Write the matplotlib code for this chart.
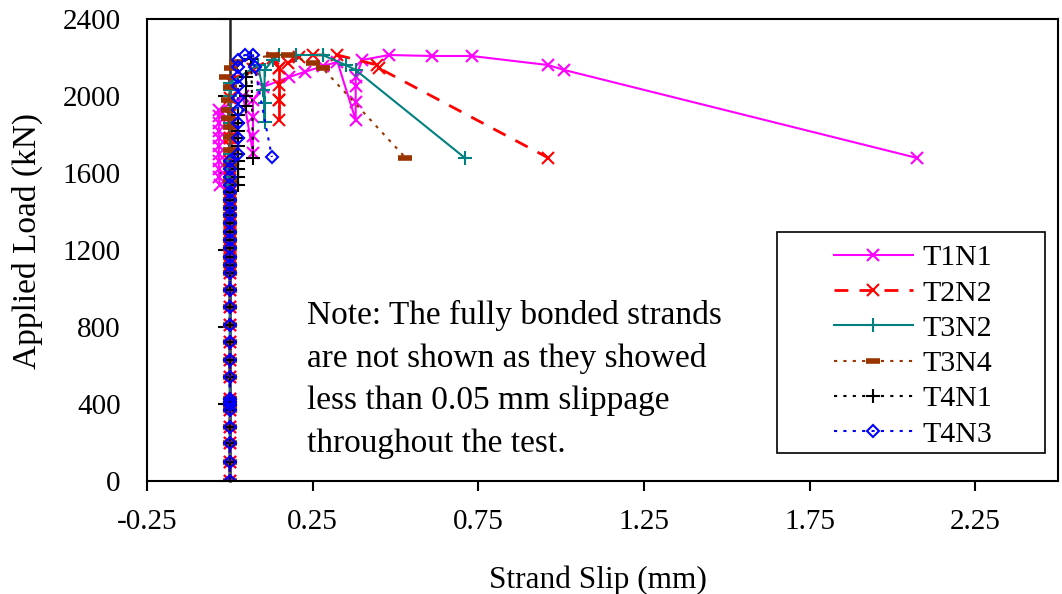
import numpy as np
import matplotlib.pyplot as plt
from matplotlib.patches import Rectangle

plt.rcParams['font.family'] = ['Liberation Serif', 'DejaVu Serif']

# common load steps where every strand is still at (about) zero slip
base_load = [0, 100, 195, 280, 370, 395, 410, 425, 540, 630, 720, 810, 905,
             990, 1080, 1120, 1165, 1210, 1250, 1295, 1340, 1380, 1420, 1460, 1500]
base_slip = [0.0] * len(base_load)

t1n1_slip = base_slip + [-0.03, -0.033, -0.033, -0.033, -0.033, -0.033, -0.033,
                         -0.033, -0.033, -0.033, -0.033, 0.04, 0.07, 0.07, 0.07,
                         0.07, 0.10, 0.18, 0.226, 0.28, 0.325, 0.38, 0.38, 0.38,
                         0.38, 0.40, 0.48, 0.61, 0.73, 0.96, 1.01, 2.075]
t1n1_load = base_load + [1540, 1580, 1620, 1660, 1700, 1740, 1780, 1820, 1860,
                         1895, 1925, 2000, 1705, 1790, 1890, 1980, 2047, 2099,
                         2125, 2155, 2177, 1875, 1969, 2050, 2099, 2187, 2213,
                         2208, 2208, 2161, 2135, 1678]

t2n2_slip = base_slip + [0.0, 0.0, 0.0, 0.0, 0.0, 0.0, 0.0, 0.0, 0.0, 0.0, 0.0,
                         0.0, 0.07, 0.13, 0.15, 0.15, 0.15, 0.15, 0.15, 0.15,
                         0.175, 0.21, 0.25, 0.325, 0.445, 0.45, 0.96]
t2n2_load = base_load + [1540, 1580, 1620, 1660, 1700, 1740, 1780, 1820, 1860,
                         1900, 1990, 2080, 2140, 2197, 2145, 2057, 1979, 1875,
                         1979, 2145, 2171, 2203, 2213, 2213, 2161, 2145, 1680]

t3n2_slip = base_slip + [0.0, 0.0, 0.0, 0.0, 0.0, 0.0, 0.0, 0.0, 0.0, 0.0, 0.0,
                         0.085, 0.10, 0.105, 0.105, 0.105, 0.13, 0.15, 0.2, 0.28,
                         0.35, 0.38, 0.71]
t3n2_load = base_load + [1540, 1580, 1620, 1660, 1700, 1780, 1860, 1940, 2000,
                         2030, 2068, 2161, 2031, 1964, 1865, 2135, 2187, 2213,
                         2213, 2213, 2161, 2135, 1678]

t3n4_slip = base_slip + [0.0, 0.0, 0.0, 0.0, 0.0, -0.005, -0.005, -0.005, 0.0,
                         -0.01, 0.005, 0.02, 0.13, 0.175, 0.25, 0.28, 0.53]
t3n4_load = base_load + [1560, 1640, 1720, 1787, 1840, 1886, 1927, 1979, 2047,
                         2099, 2145, 2177, 2213, 2213, 2171, 2145, 1680]

t4n1_slip = base_slip + [0.025, 0.025, 0.025, 0.025, 0.025, 0.025, 0.025, 0.025,
                         0.025, 0.025, 0.05, 0.05, 0.05, 0.05, 0.065, 0.07]
t4n1_load = base_load + [1540, 1580, 1620, 1660, 1700, 1740, 1780, 1820, 1860,
                         1900, 1950, 2000, 2050, 2100, 2190, 1678]

t4n3_slip = base_slip + [0.0, 0.0, 0.0, 0.0, 0.025, 0.025, 0.025, 0.025, 0.025,
                         0.025, 0.025, 0.025, 0.025, 0.045, 0.07, 0.075, 0.127]
t4n3_load = base_load + [1540, 1580, 1620, 1660, 1700, 1780, 1860, 1927, 1990,
                         2050, 2100, 2150, 2187, 2213, 2213, 2150, 1683]

y_ticks = [0, 400, 800, 1200, 1600, 2000, 2400]
x_ticks = [-0.25, 0.25, 0.75, 1.25, 1.75, 2.25]
x_min, x_max = -0.25, 2.5

fig = plt.figure(figsize=(10.62, 5.94), dpi=100)
ax = fig.add_axes([0.1384, 0.1902, 0.8578, 0.7778])

ax.plot(t1n1_slip, t1n1_load, color='#FF00FF', lw=1.5, ls='-',
        marker='x', ms=9, mew=1.5, label='T1N1')
ax.plot(t2n2_slip, t2n2_load, color='#FF0000', lw=2, ls=(0, (5, 4)),
        marker='x', ms=9, mew=1.5, label='T2N2')
ax.plot(t3n2_slip, t3n2_load, color='#008080', lw=1.5, ls='-',
        marker='+', ms=10, mew=1.5, label='T3N2')
ax.plot(t3n4_slip, t3n4_load, color='#993300', lw=1.5, ls=(0, (1.5, 3)),
        marker='_', ms=10, mew=4, label='T3N4')
ax.plot(t4n1_slip, t4n1_load, color='black', lw=1.5, ls=(0, (1.5, 3)),
        marker='+', ms=10, mew=1.5, label='T4N1')
ax.plot(t4n3_slip, t4n3_load, color='#0000FF', lw=1.5, ls=(0, (1.5, 3)),
        marker='D', ms=6, mew=1.5, mfc='none', label='T4N3')

ax.set_xlim(x_min, x_max)
ax.set_ylim(0, 2400)
ax.set_xticks(x_ticks)
ax.set_xticklabels(['-0.25', '0.25', '0.75', '1.25', '1.75', '2.25'])
ax.set_yticks(y_ticks)
ax.tick_params(axis='x', direction='out', length=7, width=1.5, pad=13, labelsize=21)
ax.tick_params(axis='y', length=0, pad=19, labelsize=21)
for s in ax.spines.values():
    s.set_linewidth(1.5)
    s.set_color('black')

# vertical axis crossing at zero slip
sec = ax.secondary_yaxis((0 - x_min) / (x_max - x_min))
sec.set_yticks(y_ticks)
sec.tick_params(direction='out', length=9, width=1.5, labelleft=False)
sec.spines['left'].set_linewidth(1.8)
sec.spines['left'].set_color('#222222')

ax.set_xlabel('Strand Slip (mm)', fontsize=22.5)
ax.set_ylabel('Applied Load (kN)', fontsize=24)
ax.xaxis.set_label_coords(0.495, -0.182)
ax.yaxis.set_label_coords(-0.114, 0.519)

ax.text(0.232, 940, 'Note: The fully bonded strands\nare not shown as they showed\n'
        'less than 0.05 mm slippage\nthroughout the test.',
        fontsize=24, va='top', ha='left', linespacing=1.5)

# legend box is wider than its contents in the original
ax.add_patch(Rectangle((0.6916, 0.0606), 0.2942, 0.4784, transform=ax.transAxes,
                       facecolor='white', edgecolor='black', lw=1.2, zorder=4))
leg = ax.legend(loc='upper left', bbox_to_anchor=(0.754, 0.512), borderaxespad=0,
                fontsize=21.5, frameon=False, handlelength=2.65,
                handletextpad=0.3, labelspacing=0.28, borderpad=0)
leg.set_zorder(5)

fig.savefig('out.png', dpi=100)
